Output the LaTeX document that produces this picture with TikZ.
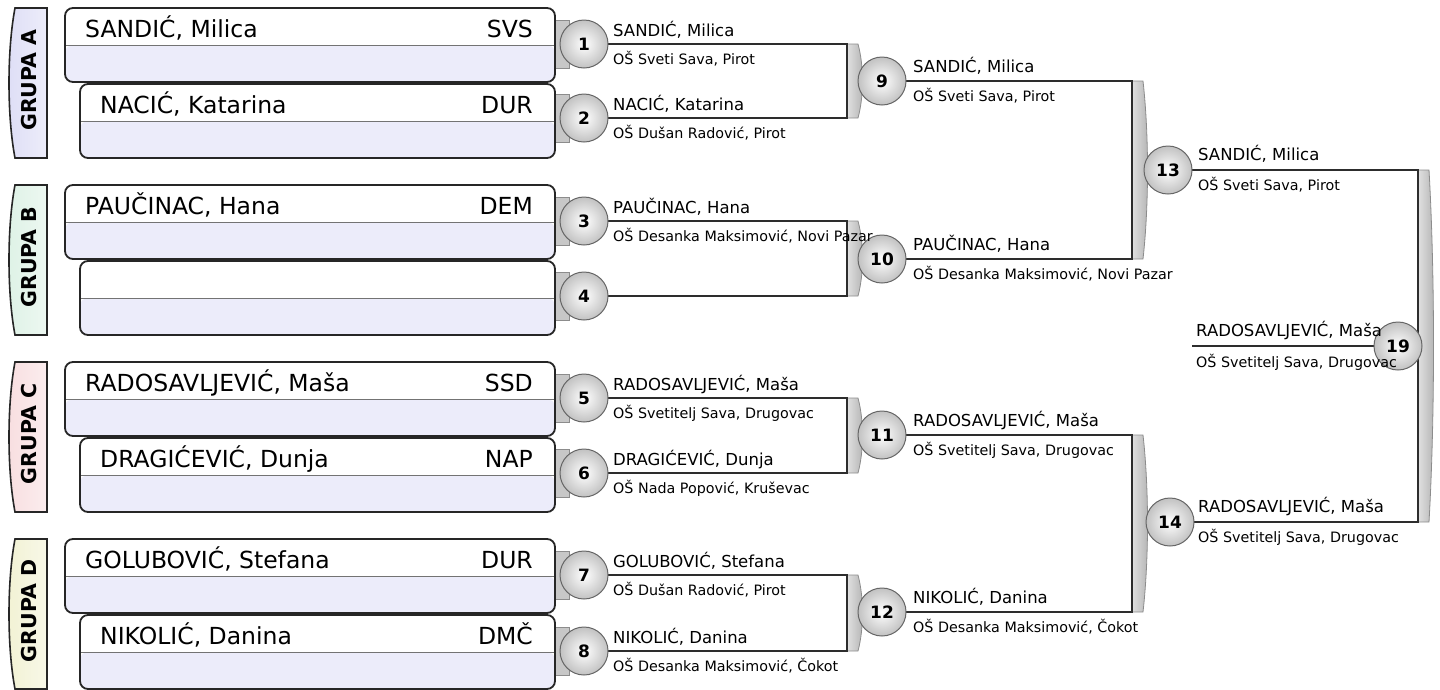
\documentclass[tikz,border=0pt]{standalone}
\usepackage{fontspec}
\setmainfont{DejaVu Sans}
\definecolor{grA}{RGB}{222,222,246}
\definecolor{grB}{RGB}{222,242,230}
\definecolor{grC}{RGB}{248,222,224}
\definecolor{grD}{RGB}{242,242,212}
\definecolor{boxlow}{RGB}{236,236,250}
\definecolor{linec}{RGB}{45,45,45}
\begin{document}
\begin{tikzpicture}[x=1pt,y=-1pt,
  conn/.style={draw=linec,line width=2.2pt},
  pbox/.style={draw=black!85,line width=1.8pt,rounded corners=8pt,minimum height=74pt,inner sep=0pt,
    path picture={\fill[boxlow] (path picture bounding box.west) rectangle (path picture bounding box.south east);
      \draw[black!55,line width=0.8pt] (path picture bounding box.west) -- (path picture bounding box.east);}},
  tab/.style={draw=black!45,fill=black!22,minimum width=14pt,minimum height=48pt,inner sep=0pt,line width=0.8pt},
  circ/.style={circle,draw=black!60,line width=1pt,inner color=white,outer color=black!24,minimum size=48pt,inner sep=0pt,font=\fontsize{17}{17}\selectfont\bfseries},
  bname/.style={anchor=base west,inner sep=0pt,font=\fontsize{23.5}{24}\selectfont},
  bcode/.style={anchor=base east,inner sep=0pt,font=\fontsize{23.5}{24}\selectfont},
  pname/.style={anchor=base west,inner sep=0pt,font=\fontsize{16.5}{17}\selectfont},
  pschool/.style={anchor=base west,inner sep=0pt,font=\fontsize{14.3}{15}\selectfont},
  glab/.style={rotate=90,inner sep=0pt,font=\fontsize{20.5}{20}\selectfont\bfseries},
  brk/.style={draw=black!45,line width=0.8pt,left color=black!12,right color=black!30}
]
\useasboundingbox (0,0) rectangle (1440,689);

% group labels
\foreach \g/\l/\c in {0/A/grA,177/B/grB,354/C/grC,531/D/grD}{
  \path[draw=black!85,line width=1.6pt,left color=\c,right color=\c!55!white]
    (47,\g+8) -- (15,\g+8) .. controls (7,\g+50) and (7,\g+116) .. (15,\g+158) -- (47,\g+158) -- cycle;
  \node[glab] (g\l) at (29,\g+80) {GRUPA \l};
}

% tabs behind round-1 circles
\foreach \i/\y in {1/44,2/118,3/221,4/296,5/398,6/473,7/575,8/651}{
  \node[tab] (tb\i) at (562,\y) {};
}

% player boxes
\foreach \g/\i in {0/1,177/2,354/3,531/4}{
  \node[pbox,minimum width=490pt] (pa\i) at (310,\g+45) {};
  \node[pbox,minimum width=475pt] (pb\i) at (317.5,\g+121) {};
}
\node[bname] (n1) at (85,37) {SANDIĆ, Milica};
\node[bcode] (c1) at (533,37) {SVS};
\node[bname] (n2) at (100,113) {NACIĆ, Katarina};
\node[bcode] (c2) at (533,113) {DUR};
\node[bname] (n3) at (85,214) {PAUČINAC, Hana};
\node[bcode] (c3) at (533,214) {DEM};
\node[bname] (n5) at (85,391) {RADOSAVLJEVIĆ, Maša};
\node[bcode] (c5) at (533,391) {SSD};
\node[bname] (n6) at (100,467) {DRAGIĆEVIĆ, Dunja};
\node[bcode] (c6) at (533,467) {NAP};
\node[bname] (n7) at (85,568) {GOLUBOVIĆ, Stefana};
\node[bcode] (c7) at (533,568) {DUR};
\node[bname] (n8) at (100,644) {NIKOLIĆ, Danina};
\node[bcode] (c8) at (533,644) {DMČ};

% brackets (gray)
\foreach \x/\a/\b in {847/44/118,847/221/296,847/398/473,847/575/651,1132/81/259,1132/435/612,1418/170/522}{
  \path[brk] (\x,\a) -- (\x+11,\a) .. controls (\x+17,\a+0.3*\b-0.3*\a) and (\x+17,\a+0.7*\b-0.7*\a) .. (\x+11,\b) -- (\x,\b) -- cycle;
}

% circle positions
\foreach \i/\x/\y in {1/584/44,2/584/118,3/584/221,4/584/296,5/584/398,6/584/473,7/584/575,8/584/651,
  9/882/81,10/882/259,11/882/435,12/882/612,13/1168/170,14/1170/522}{
  \coordinate (m\i) at (\x,\y);
}
% connectors
\coordinate (j1) at (847,44);
\coordinate (j3) at (847,221);
\coordinate (j5) at (847,398);
\coordinate (j7) at (847,575);
\coordinate (j9) at (1132,81);
\coordinate (j11) at (1132,435);
\coordinate (j13) at (1418,170);
\coordinate (f19) at (1192,346);
\foreach \a/\b/\j in {1/2/1,3/4/3,5/6/5,7/8/7,9/10/9,11/12/11,13/14/13}{
  \draw[conn] (m\a) -- (j\j) |- (m\b);
}
\draw[conn] (f19) -- (1398,346);
\foreach \i/\x/\y in {1/584/44,2/584/118,3/584/221,4/584/296,5/584/398,6/584/473,7/584/575,8/584/651,
  9/882/81,10/882/259,11/882/435,12/882/612,13/1168/170,14/1170/522}{
  \node[circ] (k\i) at (\x,\y) {\i};
}
\node[circ] (k19) at (1398,346) {19};

% round-1 texts
\node[pname] (r1a) at (613,36) {SANDIĆ, Milica};
\node[pschool] (r1b) at (613,64) {OŠ Sveti Sava, Pirot};
\node[pname] (r2a) at (613,110) {NACIĆ, Katarina};
\node[pschool] (r2b) at (613,138) {OŠ Dušan Radović, Pirot};
\node[pname] (r3a) at (613,213) {PAUČINAC, Hana};
\node[pschool] (r3b) at (613,241) {OŠ Desanka Maksimović, Novi Pazar};
\node[pname] (r5a) at (613,390) {RADOSAVLJEVIĆ, Maša};
\node[pschool] (r5b) at (613,418) {OŠ Svetitelj Sava, Drugovac};
\node[pname] (r6a) at (613,465) {DRAGIĆEVIĆ, Dunja};
\node[pschool] (r6b) at (613,493) {OŠ Nada Popović, Kruševac};
\node[pname] (r7a) at (613,567) {GOLUBOVIĆ, Stefana};
\node[pschool] (r7b) at (613,595) {OŠ Dušan Radović, Pirot};
\node[pname] (r8a) at (613,643) {NIKOLIĆ, Danina};
\node[pschool] (r8b) at (613,671) {OŠ Desanka Maksimović, Čokot};

% round-2 texts
\node[pname] (r9a) at (913,72.5) {SANDIĆ, Milica};
\node[pschool] (r9b) at (913,101.5) {OŠ Sveti Sava, Pirot};
\node[pname] (r10a) at (913,250.5) {PAUČINAC, Hana};
\node[pschool] (r10b) at (913,279.5) {OŠ Desanka Maksimović, Novi Pazar};
\node[pname] (r11a) at (913,426.5) {RADOSAVLJEVIĆ, Maša};
\node[pschool] (r11b) at (913,455.5) {OŠ Svetitelj Sava, Drugovac};
\node[pname] (r12a) at (913,603.5) {NIKOLIĆ, Danina};
\node[pschool] (r12b) at (913,632.5) {OŠ Desanka Maksimović, Čokot};

% round-3 texts
\node[pname] (r13a) at (1198,160) {SANDIĆ, Milica};
\node[pschool] (r13b) at (1198,190) {OŠ Sveti Sava, Pirot};
\node[pname] (r14a) at (1198,512) {RADOSAVLJEVIĆ, Maša};
\node[pschool] (r14b) at (1198,542) {OŠ Svetitelj Sava, Drugovac};

% final
\node[pname] (r19a) at (1196,336.5) {RADOSAVLJEVIĆ, Maša};
\node[pschool] (r19b) at (1196,367) {OŠ Svetitelj Sava, Drugovac};
\end{tikzpicture}
\end{document}
